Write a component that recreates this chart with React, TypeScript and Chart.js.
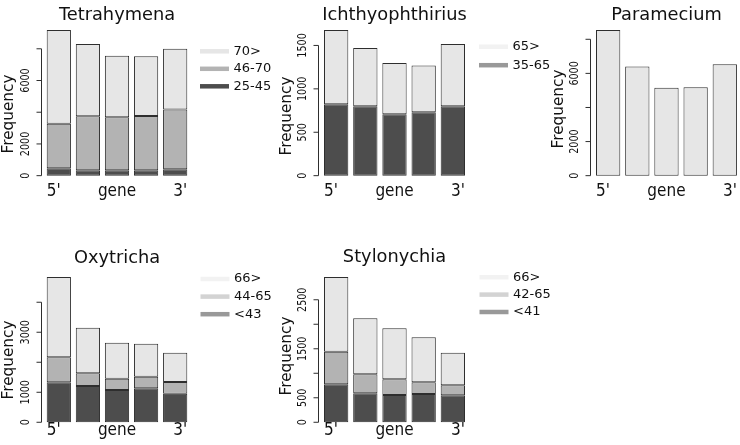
import React, { useEffect, useRef } from 'react';
import { Chart, registerables } from 'chart.js';

Chart.register(...registerables);

// ---------- data ----------
const categories = ["5'", '', 'gene', '', "3'"];

// Tetrahymena (bottom -> top)
const tetraLow = [465, 340, 340, 340, 400]; // 25-45
const tetraMid = [2815, 3410, 3345, 3425, 3765]; // 46-70
const tetraHigh = [5900, 4545, 3870, 3770, 3830]; // 70>
const tetraTicks = [0, 2000, 4000, 6000, 8000];
const tetraTickLabels = ['0', '2000', '', '6000', ''];
const tetraLegend = ['70>', '46-70', '25-45'];

// Ichthyophthirius
const ichthLow = [823, 800, 708, 731, 800]; // 35-65
const ichthHigh = [854, 670, 589, 538, 716]; // 65>
const ichthTicks = [0, 500, 1000, 1500];
const ichthTickLabels = ['0', '500', '1000', '1500'];
const ichthLegend = ['65>', '35-65'];

// Paramecium
const paraAll = [8540, 6400, 5150, 5190, 6540];
const paraTicks = [0, 2000, 4000, 6000, 8000];
const paraTickLabels = ['0', '2000', '', '6000', ''];

// Oxytricha
const oxyLow = [1333, 1209, 1076, 1133, 953]; // <43
const oxyMid = [833, 423, 377, 386, 390]; // 44-65
const oxyHigh = [2676, 1520, 1199, 1100, 976]; // 66>
const oxyTicks = [0, 1000, 2000, 3000, 4000];
const oxyTickLabels = ['0', '1000', '', '3000', ''];
const oxyLegend = ['66>', '44-65', '<43'];

// Stylonychia
const styLow = [775, 592, 557, 578, 551]; // <41
const styMid = [666, 388, 320, 238, 204]; // 42-65
const styHigh = [1524, 1142, 1041, 919, 665]; // 66>
const styTicks = [0, 500, 1000, 1500, 2000, 2500];
const styTickLabels = ['0', '500', '', '1500', '', '2500'];
const styLegend = ['66>', '42-65', '<41'];

// ---------- styles / layout ----------
const W = 740;
const H = 445;
const LIGHT = '#e6e6e6';
const MID = '#b3b3b3';
const DARK = '#4d4d4d';
const EDGE = '#2e2e2e';
const INK = '#111111';
const FONT = '"DejaVu Sans", sans-serif';

type Box = { left: number; right: number; top: number; bottom: number };
type Panel = {
  title: string;
  series: { values: number[]; color: string }[];
  ticks: number[];
  tickLabels: string[];
  legend: string[];
  legendColors: string[];
  box: Box;
  titleY: number;
  xLabelY: number;
  ylab: { x: number; y: number };
  leg: { x0: number; x1: number; y0: number; dy: number };
};

const TOP = { top: 24.2, bottom: 183.0 };
const BOT = { top: 271.1, bottom: 429.6 };
const COL1 = { left: 44.28, right: 189.72 };
const COL2 = { left: 321.57, right: 467.43 };
const COL3 = { left: 593.57, right: 739.37 };

const panels: Panel[] = [
  {
    title: 'Tetrahymena',
    series: [
      { values: tetraLow, color: DARK },
      { values: tetraMid, color: MID },
      { values: tetraHigh, color: LIGHT },
    ],
    ticks: tetraTicks,
    tickLabels: tetraTickLabels,
    legend: tetraLegend,
    legendColors: ['#e6e6e6', '#b3b3b3', '#4d4d4d'],
    box: { ...COL1, ...TOP },
    titleY: 19.5,
    xLabelY: 195.5,
    ylab: { x: 8.8, y: 114 },
    leg: { x0: 200, x1: 229, y0: 51.3, dy: 17.5 },
  },
  {
    title: 'Ichthyophthirius',
    series: [
      { values: ichthLow, color: DARK },
      { values: ichthHigh, color: LIGHT },
    ],
    ticks: ichthTicks,
    tickLabels: ichthTickLabels,
    legend: ichthLegend,
    legendColors: ['#f2f2f2', '#999999'],
    box: { ...COL2, ...TOP },
    titleY: 19.5,
    xLabelY: 195.5,
    ylab: { x: 287, y: 116 },
    leg: { x0: 479, x1: 508, y0: 46.7, dy: 18.5 },
  },
  {
    title: 'Paramecium',
    series: [{ values: paraAll, color: LIGHT }],
    ticks: paraTicks,
    tickLabels: paraTickLabels,
    legend: [],
    legendColors: [],
    box: { ...COL3, ...TOP },
    titleY: 19.5,
    xLabelY: 195.5,
    ylab: { x: 559, y: 109 },
    leg: { x0: 0, x1: 0, y0: 0, dy: 0 },
  },
  {
    title: 'Oxytricha',
    series: [
      { values: oxyLow, color: DARK },
      { values: oxyMid, color: MID },
      { values: oxyHigh, color: LIGHT },
    ],
    ticks: oxyTicks,
    tickLabels: oxyTickLabels,
    legend: oxyLegend,
    legendColors: ['#f2f2f2', '#d3d3d3', '#999999'],
    box: { ...COL1, ...BOT },
    titleY: 263,
    xLabelY: 435,
    ylab: { x: 9, y: 360 },
    leg: { x0: 200.5, x1: 229.5, y0: 279, dy: 17.6 },
  },
  {
    title: 'Stylonychia',
    series: [
      { values: styLow, color: DARK },
      { values: styMid, color: MID },
      { values: styHigh, color: LIGHT },
    ],
    ticks: styTicks,
    tickLabels: styTickLabels,
    legend: styLegend,
    legendColors: ['#f2f2f2', '#d3d3d3', '#999999'],
    box: { ...COL2, ...BOT },
    titleY: 262,
    xLabelY: 435,
    ylab: { x: 287, y: 356 },
    leg: { x0: 479.5, x1: 508.5, y0: 277.2, dy: 17.4 },
  },
];

function drawText(
  ctx: CanvasRenderingContext2D,
  s: string,
  x: number,
  y: number,
  size: number,
  align: CanvasTextAlign,
  baseline: CanvasTextBaseline,
  rot = 0,
  sx = 1
) {
  ctx.save();
  ctx.translate(x, y);
  if (rot) ctx.rotate(rot);
  if (sx !== 1) ctx.scale(sx, 1);
  ctx.font = `${size}px ${FONT}`;
  ctx.fillStyle = INK;
  ctx.textAlign = align;
  ctx.textBaseline = baseline;
  ctx.fillText(s, 0, 0);
  ctx.restore();
}

function makePlugin(p: Panel) {
  return {
    id: 'rstyle',
    afterDraw(chart: any) {
      const ctx: CanvasRenderingContext2D = chart.ctx;
      const ys = chart.scales.y;
      const area = chart.chartArea;
      const unit = (area.right - area.left) / 6;
      const axisX = Math.round(area.left - 0.132 * unit - 0.5) + 0.5;

      ctx.save();
      // y axis
      ctx.strokeStyle = EDGE;
      ctx.lineWidth = 1;
      ctx.beginPath();
      const y0 = ys.getPixelForValue(p.ticks[0]);
      const y1 = ys.getPixelForValue(p.ticks[p.ticks.length - 1]);
      ctx.moveTo(axisX, y0);
      ctx.lineTo(axisX, y1);
      p.ticks.forEach((t) => {
        const py = ys.getPixelForValue(t);
        ctx.moveTo(axisX, py);
        ctx.lineTo(axisX - 5, py);
      });
      ctx.stroke();
      p.ticks.forEach((t, i) => {
        const lab = p.tickLabels[i];
        if (!lab) return;
        drawText(ctx, lab, axisX - 16, ys.getPixelForValue(t), 12, 'center', 'middle', -Math.PI / 2, 0.8);
      });

      // y label
      drawText(ctx, 'Frequency', p.ylab.x, p.ylab.y, 15.3, 'center', 'middle', -Math.PI / 2);

      // title
      drawText(ctx, p.title, (area.left + area.right) / 2, p.titleY, 17.8, 'center', 'alphabetic');

      // x labels under bars
      const meta = chart.getDatasetMeta(0);
      const labels: string[] = chart.data.labels;
      const n = labels.length;
      labels.forEach((lab, i) => {
        if (!lab) return;
        const el = meta.data[i];
        const { x, width } = el.getProps(['x', 'width'], true);
        let px = x;
        let align: CanvasTextAlign = 'center';
        if (i === 0) {
          px = x - width / 2;
          align = 'left';
        } else if (i === n - 1) {
          px = x + width / 2;
          align = 'right';
        }
        drawText(ctx, lab, px, p.xLabelY, 18, align, 'alphabetic', 0, 0.85);
      });

      // legend
      p.legend.forEach((lab, i) => {
        const ly = p.leg.y0 + i * p.leg.dy;
        ctx.strokeStyle = p.legendColors[i];
        ctx.lineWidth = 4.5;
        ctx.lineCap = 'butt';
        ctx.beginPath();
        ctx.moveTo(p.leg.x0, ly);
        ctx.lineTo(p.leg.x1, ly);
        ctx.stroke();
        drawText(ctx, lab, p.leg.x1 + 4.5, ly, 13, 'left', 'middle');
      });
      ctx.restore();
    },
  };
}

function PanelChart({ p }: { p: Panel }) {
  const ref = useRef<HTMLCanvasElement | null>(null);
  useEffect(() => {
    if (!ref.current) return;
    const totals = categories.map((_, i) => p.series.reduce((s, d) => s + d.values[i], 0));
    const M = Math.max(...totals);
    const yMin = -0.01 * M - 0.04 * 1.01 * M;
    const yMax = M + 0.04 * 1.01 * M;
    const chart = new Chart(ref.current, {
      type: 'bar',
      data: {
        labels: categories,
        datasets: p.series.map((s) => ({
          data: s.values,
          backgroundColor: s.color,
          borderColor: EDGE,
          borderWidth: 1,
          borderSkipped: false,
          categoryPercentage: 1,
          barPercentage: 1 / 1.2,
          inflateAmount: 0,
        })),
      },
      options: {
        animation: false,
        responsive: false,
        devicePixelRatio: 1,
        events: [],
        layout: {
          padding: {
            left: p.box.left,
            right: W - p.box.right,
            top: p.box.top,
            bottom: H - p.box.bottom,
          },
        },
        plugins: {
          legend: { display: false },
          tooltip: { enabled: false },
          title: { display: false },
        },
        scales: {
          x: { type: 'category', display: false, stacked: true, offset: true },
          y: { type: 'linear', display: false, stacked: true, min: yMin, max: yMax },
        },
      },
      plugins: [makePlugin(p)],
    } as any);
    return () => chart.destroy();
  }, [p]);
  return (
    <canvas
      ref={ref}
      width={W}
      height={H}
      style={{ position: 'absolute', left: 0, top: 0, width: W, height: H }}
    />
  );
}

export default function App() {
  return (
    <div style={{ position: 'fixed', left: 0, top: 0, width: W, height: H, background: '#ffffff' }}>
      {panels.map((p) => (
        <PanelChart key={p.title} p={p} />
      ))}
    </div>
  );
}
